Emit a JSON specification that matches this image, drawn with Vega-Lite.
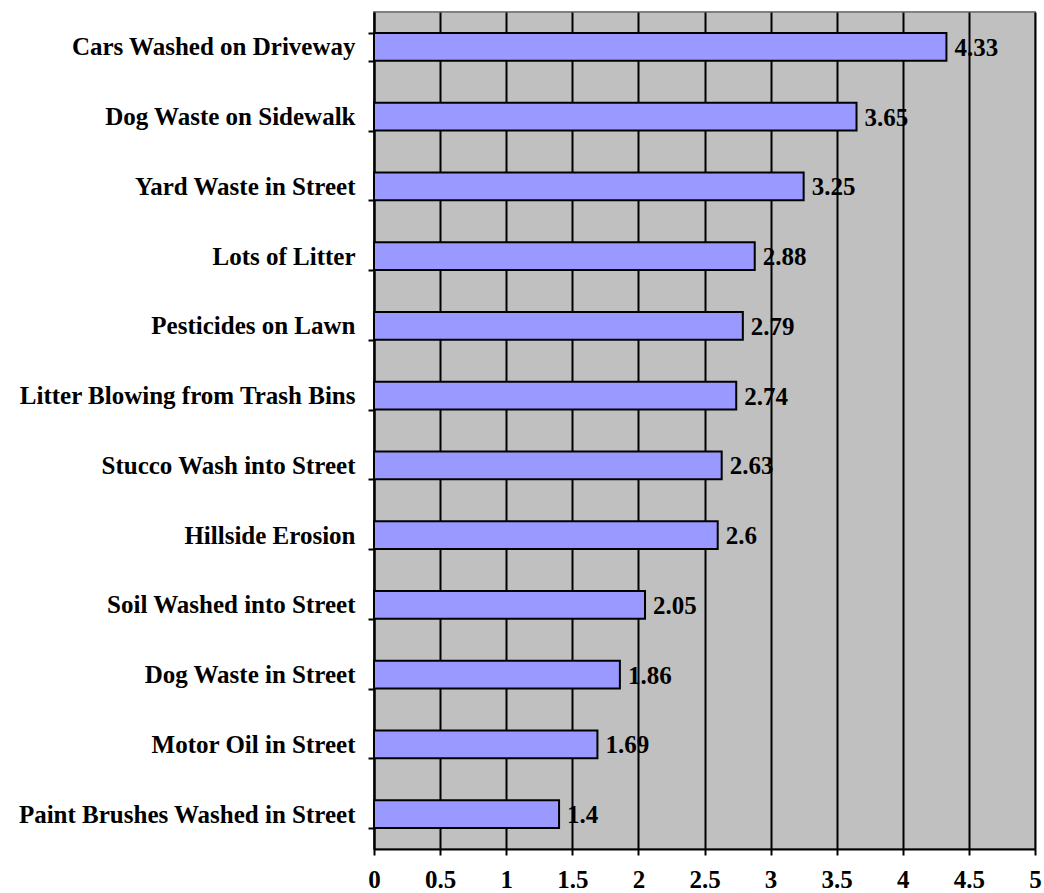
{
  "$schema": "https://vega.github.io/schema/vega-lite/v6.json",
  "width": 661,
  "height": 837,
  "padding": {"left": 17, "top": 0, "right": 5, "bottom": 5},
  "background": "white",
  "config": {
    "view": {"fill": "#C0C0C0", "stroke": "#808080", "strokeWidth": 2},
    "font": "Liberation Serif"
  },
  "data": {
    "values": [
      {"item": "Cars Washed on Driveway", "value": 4.33},
      {"item": "Dog Waste on Sidewalk", "value": 3.65},
      {"item": "Yard Waste in Street", "value": 3.25},
      {"item": "Lots of Litter", "value": 2.88},
      {"item": "Pesticides on Lawn", "value": 2.79},
      {"item": "Litter Blowing from Trash Bins", "value": 2.74},
      {"item": "Stucco Wash into Street", "value": 2.63},
      {"item": "Hillside Erosion", "value": 2.6},
      {"item": "Soil Washed into Street", "value": 2.05},
      {"item": "Dog Waste in Street", "value": 1.86},
      {"item": "Motor Oil in Street", "value": 1.69},
      {"item": "Paint Brushes Washed in Street", "value": 1.4}
    ]
  },
  "encoding": {
    "y": {
      "field": "item",
      "type": "nominal",
      "sort": null,
      "scale": {"paddingInner": 0.6, "paddingOuter": 0.3},
      "axis": {
        "title": null,
        "domain": true,
        "domainColor": "black",
        "domainWidth": 2,
        "ticks": true,
        "tickColor": "black",
        "tickWidth": 2,
        "tickSize": 6,
        "tickBand": "extent",
        "labelFont": "Liberation Serif",
        "labelFontWeight": "bold",
        "labelFontSize": 25,
        "labelColor": "black",
        "labelPadding": 13,
        "labelLimit": 500
      }
    },
    "x": {
      "field": "value",
      "type": "quantitative",
      "scale": {"domain": [0, 5], "nice": false},
      "axis": {
        "title": null,
        "values": [0, 0.5, 1, 1.5, 2, 2.5, 3, 3.5, 4, 4.5, 5],
        "format": "~g",
        "grid": true,
        "gridColor": "black",
        "gridWidth": 2,
        "gridOpacity": 1,
        "domain": true,
        "domainColor": "black",
        "domainWidth": 2,
        "ticks": true,
        "tickColor": "black",
        "tickWidth": 2,
        "tickSize": 6,
        "labelFont": "Liberation Serif",
        "labelFontWeight": "bold",
        "labelFontSize": 25,
        "labelColor": "black",
        "labelPadding": 12,
        "labelFlush": false
      }
    }
  },
  "layer": [
    {
      "mark": {"type": "bar", "fill": "#9999FF", "stroke": "black", "strokeWidth": 2}
    },
    {
      "mark": {"type": "text", "align": "left", "baseline": "middle", "dx": 8, "dy": 1, "font": "Liberation Serif", "fontWeight": "bold", "fontSize": 25, "color": "black"},
      "encoding": {"text": {"field": "value", "type": "quantitative", "format": "~g"}}
    }
  ]
}
